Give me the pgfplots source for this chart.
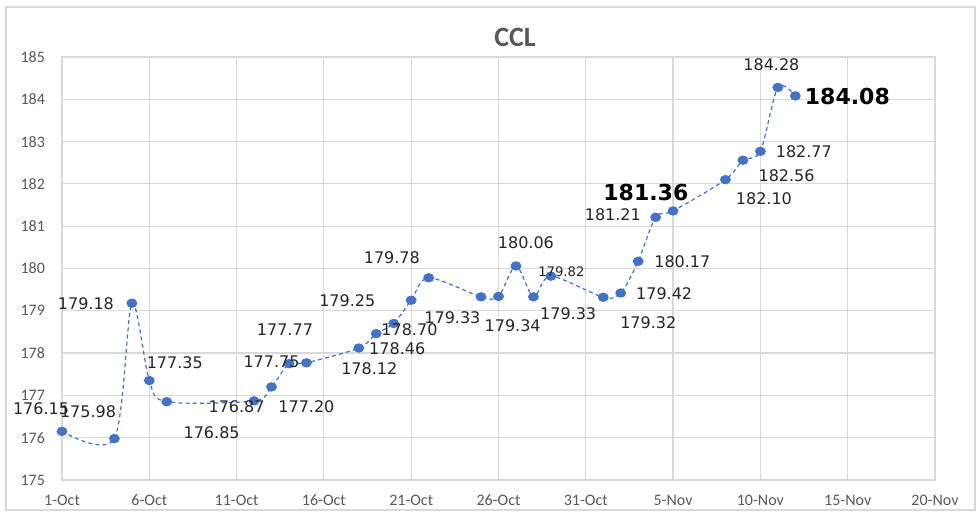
\documentclass[border=0pt]{standalone}
\usepackage{pgfplots}
\pgfplotsset{compat=1.18}
\usepackage{pgfplotstable}
\usepackage{fontspec}
\setmainfont{Carlito}
\newfontfamily\dejavu{DejaVu Sans}
\definecolor{ser}{HTML}{4472C4}
\definecolor{gridc}{HTML}{D9D9D9}
\definecolor{tickc}{HTML}{595959}
\definecolor{labc}{HTML}{262626}

\pgfplotstableread{
x y
0 176.15
3 175.98
4 179.18
5 177.35
6 176.85
11 176.87
12 177.20
13 177.75
14 177.77
17 178.12
18 178.46
19 178.70
20 179.25
21 179.78
24 179.33
25 179.34
26 180.06
27 179.33
28 179.82
31 179.32
32 179.42
33 180.17
34 181.21
35 181.36
38 182.10
39 182.56
40 182.77
41 184.28
42 184.08
}\ccl

\pgfplotstableread{
x y label
-1.20 176.68 176.15
1.49 176.61 175.98
1.37 179.16 179.18
6.46 177.77 177.35
8.57 176.11 176.85
10.0 176.73 176.87
12.77 178.55 177.77
12.0 177.79 177.75
14.0 176.73 177.20
16.34 179.23 179.25
17.6 177.62 178.12
19.2 178.11 178.46
19.9 178.56 178.70
18.89 180.26 179.78
22.36 178.84 179.33
25.81 178.65 179.34
26.57 180.60 180.06
28.99 178.94 179.33
33.58 178.73 179.32
34.49 179.40 179.42
35.53 180.16 180.17
31.55 181.28 181.21
40.2 181.64 182.10
41.5 182.19 182.56
42.49 182.76 182.77
40.63 184.81 184.28
}\labnormal

\pgfplotstableread{
x y label
28.6 179.92 179.82
}\labsmall

\pgfplotstableread{
x y label
33.44 181.80 181.36
44.98 184.06 184.08
}\labbold

\begin{document}
\begin{tikzpicture}
\fill[white] (0,0) rectangle (490pt,262pt);
\draw[gridc, line width=0.6pt] (3pt,7pt) rectangle (487.5pt,258.5pt);
\node[font=\bfseries\fontsize{14}{16}\selectfont, text=tickc] at (257.5pt,243.5pt) {CCL};
\begin{axis}[
  at={(31pt,22pt)}, anchor=south west,
  scale only axis, width=436.5pt, height=211.5pt,
  xmin=0, xmax=50, ymin=175, ymax=185,
  xtick={0,5,...,50},
  xticklabels={1-Oct,6-Oct,11-Oct,16-Oct,21-Oct,26-Oct,31-Oct,5-Nov,10-Nov,15-Nov,20-Nov},
  ytick={175,176,...,185},
  grid=major,
  major grid style={gridc, line width=0.6pt},
  axis line style={gridc, line width=0.6pt},
  major tick length=0pt,
  tick label style={font=\fontsize{8}{9}\selectfont, text=tickc},
  /pgf/number format/assume math mode=true,
  yticklabel style={xshift=-5pt},
  xticklabel style={yshift=-4pt},
  clip=false,
]
\addplot[ser, line width=0.6pt, dash pattern=on 2pt off 1.6pt, smooth, tension=0.5,
  mark=*, mark size=2.4pt, mark options={solid, fill=ser, draw=ser, yscale=0.85}]
  table[x=x, y=y] {\ccl};
\addplot[only marks, mark=none, nodes near coords, point meta=explicit symbolic,
  nodes near coords align=center,
  every node near coord/.append style={font=\dejavu\fontsize{8}{9}\selectfont, text=labc, inner sep=0pt}]
  table[x=x, y=y, meta=label] {\labnormal};
\addplot[only marks, mark=none, nodes near coords, point meta=explicit symbolic,
  nodes near coords align=center,
  every node near coord/.append style={font=\dejavu\fontsize{6.6}{8}\selectfont, text=labc, inner sep=0pt}]
  table[x=x, y=y, meta=label] {\labsmall};
\addplot[only marks, mark=none, nodes near coords, point meta=explicit symbolic,
  nodes near coords align=center,
  every node near coord/.append style={font=\dejavu\bfseries\fontsize{11}{13}\selectfont, text=black, inner sep=0pt}]
  table[x=x, y=y, meta=label] {\labbold};
\end{axis}
\end{tikzpicture}
\end{document}
